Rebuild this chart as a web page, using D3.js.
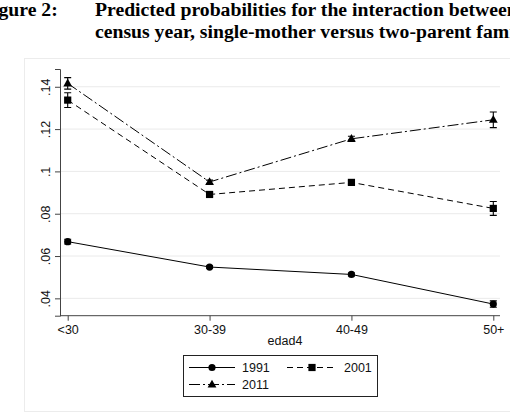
<!DOCTYPE html>
<html>
<head>
<meta charset="utf-8">
<script src="https://cdn.jsdelivr.net/npm/d3@7"></script>
<style>
  body { margin: 0; background: #fff; }
  svg { display: block; }
</style>
</head>
<body>
<div id="chart"></div>
<script>
const categories = ['<30', '30-39', '40-49', '50+']
const years = ['1991', '2001', '2011']
const p1991 = [0.0668, 0.0548, 0.0513, 0.0373]
const p2001 = [0.1337, 0.0891, 0.0948, 0.0825]
const p2011 = [0.1416, 0.0950, 0.1154, 0.1244]
// half width of the confidence intervals
const e1991 = [0.0011, 0.0006, 0.0007, 0.0015]
const e2001 = [0.0035, 0.0008, 0.0008, 0.0033]
const e2011 = [0.0027, 0.0009, 0.0012, 0.0037]
const yTicks = [0.04, 0.06, 0.08, 0.1, 0.12, 0.14]

const width = 510
const height = 418

const series = [
  { name: years[0], values: p1991, errs: e1991, dash: null, marker: 'circle' },
  { name: years[1], values: p2001, errs: e2001, dash: '6,4', marker: 'square' },
  { name: years[2], values: p2011, errs: e2011, dash: '11,3,2,3', marker: 'triangle' }
]

const svg = d3.select('#chart').append('svg')
  .attr('width', width)
  .attr('height', height)

// title (cut at the page edges like the scanned figure)
const title = svg.append('g')
  .style('font-family', '"Liberation Serif", "Times New Roman", serif')
  .style('font-weight', 'bold')
  .style('font-size', '19.7px')
title.append('text').attr('x', -19).attr('y', 15.5).text('Figure 2:')
title.append('text').attr('x', 95).attr('y', 15.5)
  .text('Predicted probabilities for the interaction between age,')
title.append('text').attr('x', 95).attr('y', 37.5)
  .text('census year, single-mother versus two-parent families')

// faint graph region
svg.append('rect')
  .attr('x', 24.5).attr('y', 58.5)
  .attr('width', 500).attr('height', 353)
  .attr('fill', 'none')
  .attr('stroke', '#ececec')

const x = d3.scalePoint()
  .domain(categories)
  .range([67.7, 493.3])

const y = d3.scaleLinear()
  .domain([0.0318, 0.1484])
  .range([315.7, 69])

const plotLeft = 60
const plotRight = 500

// gridlines
svg.append('g')
  .selectAll('line')
  .data(yTicks)
  .join('line')
  .attr('x1', plotLeft).attr('x2', plotRight)
  .attr('y1', d => y(d)).attr('y2', d => y(d))
  .attr('stroke', '#eaeaea')

const fmt = d => String(d).replace(/^0/, '')

const yAxis = svg.append('g')
  .attr('transform', `translate(${plotLeft},0)`)
  .call(d3.axisLeft(y).tickValues(yTicks).tickFormat(fmt).tickSizeOuter(0).tickSize(5).tickPadding(5))
yAxis.select('.domain').attr('stroke', '#444')
yAxis.selectAll('.tick line').attr('stroke', '#444')
yAxis.selectAll('.tick text')
  .attr('transform', 'rotate(-90)')
  .attr('x', 0).attr('y', -10)
  .attr('dy', 0)
  .attr('text-anchor', 'middle')
  .style('font-family', '"Liberation Sans", Arial, sans-serif')
  .style('font-size', '12.5px')
  .attr('fill', '#111')

const xAxis = svg.append('g')
  .attr('transform', `translate(0,${y.range()[0]})`)
  .call(d3.axisBottom(x).tickSizeOuter(0).tickSize(5).tickPadding(4))
xAxis.select('.domain').attr('d', `M${plotLeft},0H${plotRight}`).attr('stroke', '#444')
xAxis.selectAll('.tick line').attr('stroke', '#444')
xAxis.selectAll('.tick text')
  .style('font-family', '"Liberation Sans", Arial, sans-serif')
  .style('font-size', '12.5px')
  .attr('fill', '#111')

svg.append('text')
  .attr('x', (plotLeft + plotRight) / 2 + 5).attr('y', 345)
  .attr('text-anchor', 'middle')
  .style('font-family', '"Liberation Sans", Arial, sans-serif')
  .style('font-size', '12.5px')
  .attr('fill', '#111')
  .text('edad4')

function drawMarker(g, type, cx, cy) {
  if (type === 'circle') {
    g.append('circle').attr('cx', cx).attr('cy', cy).attr('r', 3.6).attr('fill', '#000')
  } else if (type === 'square') {
    g.append('rect').attr('x', cx - 3.6).attr('y', cy - 3.6)
      .attr('width', 7.2).attr('height', 7.2).attr('fill', '#000')
  } else {
    g.append('path')
      .attr('d', `M${cx},${cy - 4.8}L${cx + 4.4},${cy + 3}L${cx - 4.4},${cy + 3}Z`)
      .attr('fill', '#000')
  }
}

const line = d3.line()
  .x((d, i) => x(categories[i]))
  .y(d => y(d))

series.forEach(s => {
  const g = svg.append('g')
  g.append('path')
    .datum(s.values)
    .attr('d', line)
    .attr('fill', 'none')
    .attr('stroke', '#000')
    .attr('stroke-width', 1)
    .attr('stroke-dasharray', s.dash)
  // confidence intervals
  s.values.forEach((v, i) => {
    const cx = x(categories[i])
    const y1 = y(v + s.errs[i])
    const y2 = y(v - s.errs[i])
    g.append('path')
      .attr('d', `M${cx},${y1}V${y2}M${cx - 3.5},${y1}H${cx + 3.5}M${cx - 3.5},${y2}H${cx + 3.5}`)
      .attr('stroke', '#000')
      .attr('stroke-width', 1.1)
      .attr('fill', 'none')
    drawMarker(g, s.marker, cx, y(v))
  })
})

// legend
const legend = svg.append('g')
legend.append('rect')
  .attr('x', 183.5).attr('y', 355.5)
  .attr('width', 194).attr('height', 41)
  .attr('fill', '#fff')
  .attr('stroke', '#222')
const legendPos = [[189, 367.5], [287, 367.5], [189, 384.5]]
series.forEach((s, i) => {
  const [lx, ly] = legendPos[i]
  const lw = i === 1 ? 50 : 46
  legend.append('line')
    .attr('x1', lx).attr('x2', lx + lw)
    .attr('y1', ly).attr('y2', ly)
    .attr('stroke', '#000')
    .attr('stroke-dasharray', s.dash)
  drawMarker(legend, s.marker, lx + lw / 2, ly)
  legend.append('text')
    .attr('x', lx + lw + 7).attr('y', ly + 4.5)
    .style('font-family', '"Liberation Sans", Arial, sans-serif')
    .style('font-size', '12.5px')
    .attr('fill', '#111')
    .text(s.name)
})

// source note, cut by the bottom edge as in the scan
svg.append('text')
  .attr('x', 24).attr('y', 427)
  .style('font-family', '"Liberation Sans", Arial, sans-serif')
  .style('font-size', '11px')
  .attr('fill', '#333')
  .text('Special population')
</script>
</body>
</html>
